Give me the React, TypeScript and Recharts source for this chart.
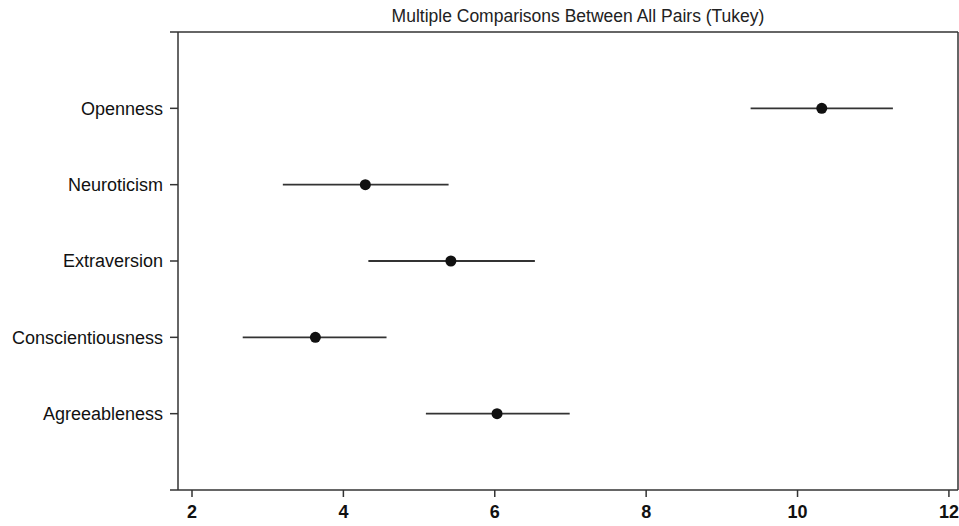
import {
  ScatterChart,
  Scatter,
  XAxis,
  YAxis,
  ErrorBar,
  ReferenceLine,
} from "recharts";

const categories = [
  "Agreeableness",
  "Conscientiousness",
  "Extraversion",
  "Neuroticism",
  "Openness",
];
const means = [6.03, 3.63, 5.42, 4.29, 10.32];
const lower = [5.09, 2.67, 4.33, 3.2, 9.38];
const upper = [6.99, 4.57, 6.53, 5.39, 11.26];
const xTicks = [2, 4, 6, 8, 10, 12];
const yTicks = [0, 1, 2, 3, 4, 5, 6];

const X_MIN = 1.815;
const X_MAX = 12.12;

const data = categories.map((name, i) => ({
  name,
  pos: i + 1,
  mean: means[i],
  err: [means[i] - lower[i], upper[i] - means[i]],
}));

const font = "'Liberation Sans', Arial, sans-serif";

const Dot = (props: any) => (
  <circle cx={props.cx} cy={props.cy} r={5.5} fill="#111" />
);

const App = () => {
  return (
    <div style={{ position: "absolute", left: 0, top: 0, width: 959, height: 526, background: "#fff" }}>
      <div
        style={{
          position: "absolute",
          left: 0,
          width: 1156,
          top: 6,
          textAlign: "center",
          fontFamily: font,
          fontSize: 17.5,
          color: "#222",
          whiteSpace: "nowrap",
        }}
      >
        Multiple Comparisons Between All Pairs (Tukey)
      </div>
      <ScatterChart
        width={959}
        height={526}
        margin={{ top: 32, right: 1, bottom: 0, left: 0 }}
      >
        <XAxis
          type="number"
          dataKey="mean"
          domain={[X_MIN, X_MAX]}
          allowDataOverflow
          ticks={xTicks}
          height={36}
          tickSize={7}
          tickMargin={8}
          stroke="#333"
          strokeWidth={1.5}
          tick={{ fill: "#111", fontSize: 18, fontWeight: "bold", fontFamily: font }}
        />
        <YAxis
          type="number"
          dataKey="pos"
          domain={[0, 6]}
          ticks={yTicks}
          interval={0}
          width={178}
          tickSize={8}
          tickMargin={7}
          stroke="#333"
          strokeWidth={1.5}
          tickFormatter={(v: number) => categories[v - 1] ?? ""}
          tick={{ fill: "#111", fontSize: 18, fontFamily: font }}
        />
        <ReferenceLine y={6} stroke="#333" strokeWidth={1.5} />
        <ReferenceLine x={X_MAX} stroke="#333" strokeWidth={1.5} />
        <Scatter data={data} shape={Dot} isAnimationActive={false}>
          <ErrorBar
            dataKey="err"
            direction="x"
            width={0}
            stroke="#333"
            strokeWidth={1.8}
            isAnimationActive={false}
          />
        </Scatter>
      </ScatterChart>
    </div>
  );
};

export default App;
